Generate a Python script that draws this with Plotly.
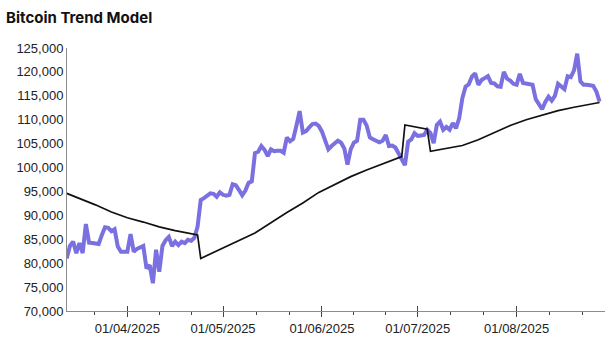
import calendar
import datetime as dt
import pandas as pd
import plotly.graph_objects as go

# ---- data ----
btc_start = "2025-03-13"
btc_values = [
    81000, 83600, 84500, 82100, 84200, 82100, 88200, 84300, 84200, 84100,
    84000, 85900, 87500, 87400, 86700, 87100, 83500, 82400, 82300, 82400,
    86100, 82400, 83000, 83300, 83600, 78900, 79600, 75800, 82800, 78200,
    83600, 84800, 85500, 83600, 84500, 83800, 84500, 84200, 84900, 84700,
    85300, 87600, 93200, 93600, 94200, 94600, 94500, 93900, 94800, 94300,
    94100, 94300, 96500, 96300, 95300, 94200, 95200, 96800, 97100, 103000,
    103300, 104500, 103700, 102400, 103800, 103400, 103500, 103500, 103100, 106300,
    105500, 106000, 108800, 111800, 107300, 107600, 108400, 109100, 109200, 108700,
    107500, 105400, 103800, 104500, 105200, 105600, 105200, 104000, 100600, 103800,
    105200, 105600, 110000, 110000, 108800, 106300, 105900, 105700, 105300, 105600,
    106800, 104500, 104600, 104200, 103000, 101900, 100500, 105400, 105900, 107200,
    106600, 106700, 106800, 107900, 107200, 105100, 108900, 109600, 107900, 108500,
    107900, 109300, 108200, 110300, 114500, 116900, 117400, 119000, 119700, 117300,
    118300, 118700, 119100, 117700, 117600, 117000, 116900, 120000, 118600, 118200,
    117500, 117300, 119600, 117700, 117600, 117600, 117300, 114300, 113100, 112200,
    113700, 114800, 114000, 115000, 117500, 117000, 116400, 119100, 118900, 120300,
    123800, 118000, 117300, 117300, 117300, 117100, 115900, 113800,
]
btc_dates = pd.date_range(btc_start, periods=len(btc_values), freq="D")

trend_dates = [
    "2025-03-13", "2025-03-22", "2025-03-27", "2025-04-01", "2025-04-06",
    "2025-04-11", "2025-04-16", "2025-04-23", "2025-04-24", "2025-05-11",
    "2025-05-21", "2025-05-26", "2025-05-31", "2025-06-05", "2025-06-10",
    "2025-06-15", "2025-06-20", "2025-06-26", "2025-06-27", "2025-07-04",
    "2025-07-05", "2025-07-10", "2025-07-15", "2025-07-20", "2025-07-25",
    "2025-07-30", "2025-08-04", "2025-08-09", "2025-08-14", "2025-08-19",
    "2025-08-24", "2025-08-27",
]
trend_values = [
    94600, 92200, 90700, 89500, 88600,
    87600, 86800, 85900, 81000, 86300,
    90600, 92600, 94800, 96500, 98100,
    99500, 100800, 102300, 108900, 108000,
    103400, 104000, 104600, 105800, 107300,
    108800, 110000, 111000, 111900, 112600,
    113200, 113600,
]

y_ticks = [70000, 75000, 80000, 85000, 90000, 95000, 100000, 105000, 110000, 115000, 120000, 125000]
x_range = ["2025-03-13 02:00", "2025-08-28 17:00"]

# minor ticks at thirds of each month
minor_vals = []
for m in range(3, 9):
    start = dt.datetime(2025, m, 1)
    ndays = calendar.monthrange(2025, m)[1]
    for k in (1, 2):
        t = start + dt.timedelta(days=ndays * k / 3)
        if pd.Timestamp(x_range[0]) < t < pd.Timestamp(x_range[1]):
            minor_vals.append(t)

fig = go.Figure()
fig.add_trace(go.Scatter(
    x=btc_dates, y=btc_values, mode="lines",
    line=dict(color="#7a70e0", width=4), name="Bitcoin", showlegend=False,
))
fig.add_trace(go.Scatter(
    x=pd.to_datetime(trend_dates), y=trend_values, mode="lines",
    line=dict(color="#111111", width=1.7), name="Trend", showlegend=False,
))
# empty helper trace so the overlay axis (upward tick halves) is drawn
fig.add_trace(go.Scatter(
    x=[btc_dates[0]], y=[None], xaxis="x2", yaxis="y", mode="lines",
    showlegend=False, hoverinfo="skip",
))

tick_font = dict(family="Liberation Sans, Arial, sans-serif", size=13, color="#222222")
common_x = dict(
    type="date", range=x_range, dtick="M1", tick0="2025-04-01",
    tickformat="%d/%m/%Y", showgrid=False, zeroline=False,
    ticklen=5, tickwidth=1, tickcolor="#444444",
    minor=dict(tickmode="array", tickvals=minor_vals, ticklen=3, tickwidth=1,
               tickcolor="#444444", showgrid=False),
)
fig.update_layout(
    width=608, height=342,
    margin=dict(l=67, r=3, t=48, b=31),
    paper_bgcolor="white", plot_bgcolor="white",
    title=dict(text="<b>Bitcoin Trend Model</b>", x=0.01, xanchor="left",
               y=1 - 18 / 342, yanchor="middle",
               font=dict(family="Inter, Poppins, sans-serif", size=15, color="#111111")),
    xaxis=dict(**common_x, ticks="outside", showline=True, linecolor="#8c8c8c",
               linewidth=1, tickfont=tick_font),
    xaxis2=dict(**common_x, ticks="inside", overlaying="x", side="bottom",
                showline=False, showticklabels=False, anchor="y"),
    yaxis=dict(range=[70000, 125000], tickvals=y_ticks, tickformat=",d",
               showgrid=False, zeroline=False, showline=True, linecolor="#8c8c8c",
               linewidth=1, ticks="", tickfont=tick_font),
)
fig.write_html("out.html")
